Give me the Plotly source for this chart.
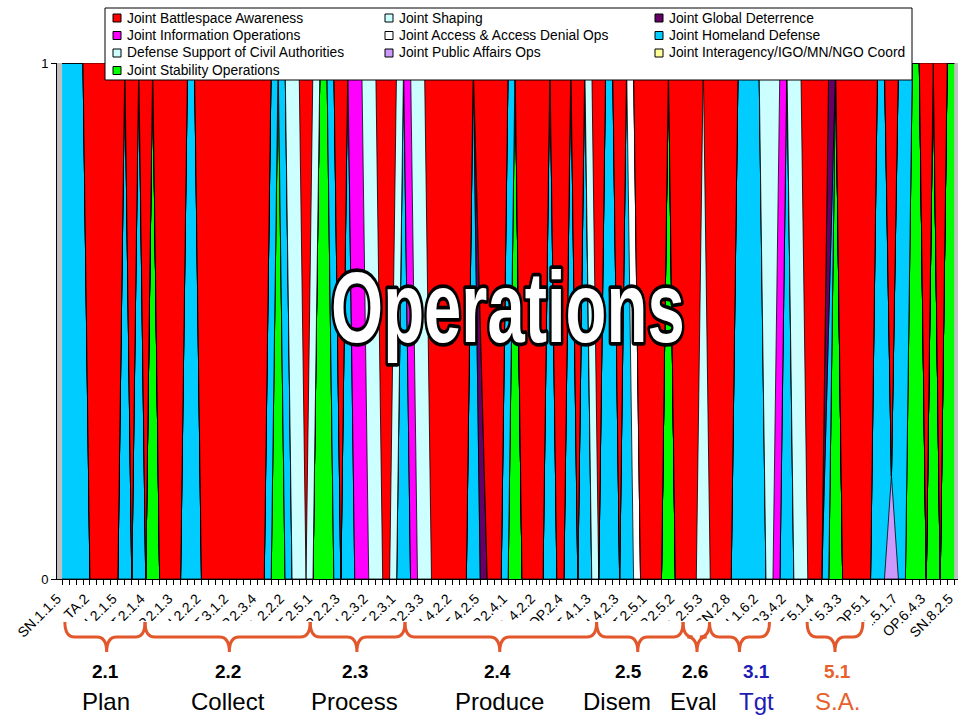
import plotly.graph_objects as go

# ---------------- data ----------------
series_names = [
    "Joint Battlespace Awareness", "Joint Information Operations",
    "Defense Support of Civil Authorities", "Joint Stability Operations",
    "Joint Shaping", "Joint Access & Access Denial Ops", "Joint Public Affairs Ops",
    "Joint Global Deterrence", "Joint Homeland Defense", "Joint Interagency/IGO/MN/NGO Coord",
]
series_codes = ["R", "M", "D", "G", "L", "W", "V", "P", "C", "Y"]
series_colors = ["#FF0000", "#FF00FF", "#CCFFFF", "#00FF00", "#CCFFFF",
                 "#FFFFFF", "#CC99FF", "#660066", "#00CCFF", "#FFFF99"]
# legend reading order (row by row, 3 columns)
legend_order = ["R", "L", "P", "M", "W", "C", "D", "V", "Y", "G"]
stack_order = ["G", "Y", "D", "V", "C", "W", "P", "M", "L", "R"]  # bottom -> top

# task categories -> mission area share (run-length: "code[:share]/...", number of categories)
category_runs = [
    ("C", 4), ("R", 5), ("C", 1), ("R", 1), ("C", 1), ("R", 1), ("G", 1), ("R", 4),
    ("C", 2), ("R", 10), ("C", 1), ("G", 1), ("C", 1), ("L", 2), ("R", 1), ("L", 1),
    ("G", 2), ("C", 1), ("R", 1), ("C", 1), ("M", 2), ("L", 2), ("R", 2), ("L", 1),
    ("C", 1), ("M", 1), ("L", 2), ("R", 6), ("C", 1), ("P:0.5/R:0.5", 1), ("R", 3),
    ("C", 1), ("G", 1), ("R", 4), ("C", 1), ("R", 2), ("C", 1), ("R", 1), ("C", 1),
    ("L", 1), ("R", 1), ("C", 2), ("R", 1), ("C", 1), ("W", 1), ("R", 4), ("G", 1),
    ("R", 4), ("L", 1), ("R", 4), ("C", 4), ("L", 2), ("M", 1), ("C", 1), ("L", 2),
    ("R", 3), ("C:0.5/P:0.5", 1), ("G", 1), ("R", 5), ("C", 2), ("V:0.2/R:0.8", 1),
    ("C", 2), ("G", 2), ("R", 1), ("G", 1), ("R", 1), ("G", 2),
]
tick_labels = [
    "SN.1.1.5", "TA.2", "SN.2.1.5", "ST.2.1.4", "OP.2.1.3", "SN.2.2.2", "ST.3.1.2",
    "OP.2.3.4", "TA.2.2.2", "ST.2.5.1", "OP.2.2.3", "SN.2.3.2", "ST.2.3.1", "OP.2.3.3",
    "SN.4.2.2", "ST.4.2.5", "OP.2.4.1", "TA.4.2.2", "OP.2.4", "ST.4.1.3", "SN.4.2.3",
    "ST.2.5.1", "OP.2.5.2", "TA.2.5.3", "SN.2.8", "SN.1.6.2", "OP.3.4.2", "ST.5.1.4",
    "SN.5.3.3", "OP.5.1", "TA.5.1.7", "OP.6.4.3", "SN.8.2.5",
]
tick_every = 4

group_numbers = ["2.1", "2.2", "2.3", "2.4", "2.5", "2.6", "3.1", "5.1"]
group_names = ["Plan", "Collect", "Process", "Produce", "Disem", "Eval", "Tgt", "S.A."]
group_start = [0.4, 11.9, 35.6, 49.2, 76.7, 89.1, 92.9, 106.9]
group_end = [11.9, 35.6, 49.2, 76.7, 89.1, 92.9, 101.5, 114.9]
group_center = [6.4, 24.0, 42.3, 62.8, 82.6, 91.1, 97.2, 110.9]
group_number_x = [6.3, 23.8, 42.0, 62.5, 81.2, 90.8, 99.7, 111.2]
group_name_x = [6.3, 23.8, 42.0, 62.8, 79.6, 90.6, 99.7, 111.3]
group_colors = ["#000000"] * 6 + ["#1C1CB4", "#E8602C"]
brace_color = "#E2572B"

# ---------------- figure ----------------
cats = []
for code, n in category_runs:
    cats.extend([code] * n)
xs = list(range(len(cats)))


def share(code, cat):
    for part in cat.split("/"):
        name, _, val = part.partition(":")
        if name == code:
            return float(val) if val else 1.0
    return 0.0


fig = go.Figure()
for code in stack_order:
    k = series_codes.index(code)
    fig.add_trace(go.Scatter(
        x=xs, y=[share(code, c) for c in cats], stackgroup="one", mode="lines",
        line=dict(color="#000000", width=0.8, shape="linear"),
        fillcolor=series_colors[k], name=series_names[k], showlegend=False,
        hoverinfo="skip"))

W, H = 958, 718
L, R, T, B = 57, 0, 63, 139
pw, ph = W - L - R, H - T - B


def px(p):  # pixel x -> paper x
    return (p - L) / pw


def py(p):  # pixel y -> paper y
    return (H - B - p) / ph


shapes = [dict(type="rect", xref="paper", yref="paper", x0=px(62), x1=px(872),
               y0=py(718), y1=py(621), layer="above",
               fillcolor="white", line=dict(width=0))]
yt, ym, yb = py(622), py(637), py(652)
r = 1.4
for s, e, c in zip(group_start, group_end, group_center):
    path = (f"M{s},{yt} Q{s},{ym} {s + r},{ym} L{c - r},{ym} Q{c},{ym} {c},{yb} "
            f"Q{c},{ym} {c + r},{ym} L{e - r},{ym} Q{e},{ym} {e},{yt}")
    shapes.append(dict(type="path", xref="x", yref="paper", path=path, layer="above",
                       line=dict(color=brace_color, width=3)))

annotations = []
for num, name, nx, mx, col in zip(group_numbers, group_names, group_number_x,
                                  group_name_x, group_colors):
    annotations.append(dict(x=nx, y=py(672), xref="x", yref="paper", text=num,
                            showarrow=False, yanchor="middle",
                            font=dict(size=19, color=col, weight="bold")))
    annotations.append(dict(x=mx, y=py(701), xref="x", yref="paper", text=name,
                            showarrow=False, yanchor="middle",
                            font=dict(size=24, color=col)))
annotations.append(dict(x=0.5, y=py(306), xref="paper", yref="paper", text="Operations",
                        showarrow=False, xanchor="center", yanchor="middle",
                        font=dict(size=67, color="white", weight="bold",
                                  family="Liberation Sans, Arial, sans-serif")))

# legend box (3 columns, filled row by row)
shapes.append(dict(type="rect", xref="paper", yref="paper", x0=px(105), x1=px(912),
                   y0=py(80), y1=py(8), layer="above", fillcolor="white",
                   line=dict(color="#000000", width=1)))
col_x = [113, 385, 655]
row_y = [18, 35.5, 53, 70.5]
for n, code in enumerate(legend_order):
    k = series_codes.index(code)
    cx, cy = col_x[n % 3], row_y[n // 3]
    shapes.append(dict(type="rect", xref="paper", yref="paper", x0=px(cx), x1=px(cx + 8),
                       y0=py(cy + 4), y1=py(cy - 4), layer="above",
                       fillcolor=series_colors[k], line=dict(color="#000000", width=1)))
    annotations.append(dict(x=px(cx + 12), y=py(cy), xref="paper", yref="paper",
                            text=series_names[k], showarrow=False, xanchor="left",
                            yanchor="middle", font=dict(size=13.8, color="#000000")))

fig.update_layout(
    width=W, height=H, margin=dict(l=L, r=R, t=T, b=B),
    paper_bgcolor="white", plot_bgcolor="#C0C0C0",
    font=dict(family="Liberation Sans, Arial, sans-serif", color="#000000"),
    showlegend=False,
    xaxis=dict(range=[-0.73, 128.55], tickmode="array",
               tickvals=[i * tick_every for i in range(len(tick_labels))],
               ticktext=tick_labels, tickangle=-45, tickfont=dict(size=14),
               ticklabeloverflow="allow", ticklabelshift=-5,
               ticks="outside", ticklen=5, tickcolor="#000000",
               showline=True, linecolor="#000000", linewidth=1,
               showgrid=False, zeroline=False,
               minor=dict(tickmode="linear", tick0=0, dtick=1, ticks="outside",
                          ticklen=5, tickcolor="#000000", showgrid=False)),
    yaxis=dict(range=[0, 1], tickmode="array", tickvals=[0, 1], ticktext=["0", "1"],
               ticks="outside", ticklen=5, tickcolor="#000000", tickfont=dict(size=13),
               showline=True, linecolor="#000000", linewidth=1,
               showgrid=False, zeroline=False),
    shapes=shapes, annotations=annotations,
)

post = """
document.body.style.margin = '0';
var gd = document.getElementById('{plot_id}');
gd.querySelectorAll('text.annotation-text').forEach(function(t){
  if (t.textContent === 'Operations') {
    t.style.stroke = '#000';
    t.style.strokeWidth = '5px';
    t.style.strokeLinejoin = 'round';
    t.style.paintOrder = 'stroke';
    t.style.transformBox = 'fill-box';
    t.style.transformOrigin = 'center';
    t.style.transform = 'scaleY(1.5)';
  }
});
"""
fig.write_html("out.html", post_script=post, config={"displayModeBar": False})
